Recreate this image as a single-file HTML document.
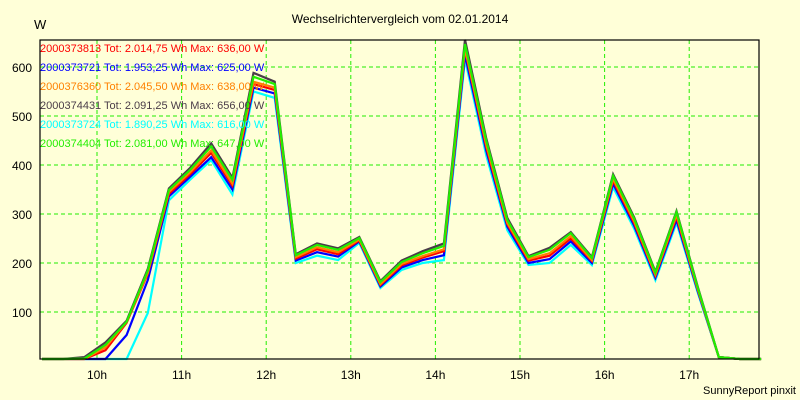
<!DOCTYPE html>
<html><head><meta charset="utf-8"><style>
body{margin:0;background:#ffffd8;}
svg{display:block;font-family:"Liberation Sans",sans-serif;}
</style></head><body>
<svg id="chart" width="800" height="400">
<rect width="800" height="400" fill="#ffffd8"/>
<text x="400" y="23" font-size="12" text-anchor="middle">Wechselrichtervergleich vom 02.01.2014</text>
<text x="34" y="29" font-size="13">W</text>
<text x="796" y="394" font-size="11" text-anchor="end">SunnyReport pinxit</text>
<g id="grid"></g><g id="series"></g><g id="legend"></g>
<rect x="40" y="40" width="719" height="319" fill="none" stroke="#000" stroke-width="1.2"/>
</svg>
<script>
const hourTicks=[10,11,12,13,14,15,16,17];
const yTicks=[100,200,300,400,500,600];
const startHour=9.35, stepHour=0.25;
const names=["2000373813","2000373721","2000376360","2000374431","2000373724","2000374404"];
const totals=["2.014,75","1.953,25","2.045,50","2.091,25","1.890,25","2.081,00"];
const maxes=["636,00","625,00","638,00","656,00","616,00","647,00"];
const colors=["#ff0000","#0000ff","#ff8000","#4a3c48","#00ffff","#22ee00"];
const s0=[0,0,3,22,78,178,341,381,425,358,565,553,209,228,218,246,155,195,211,224,636,437,279,205,215,250,204,368,281,174,294,146,8,2,0];
const s1=[0,0,0,0,53,165,336,376,416,350,558,546,205,222,213,244,152,191,206,216,625,430,274,200,208,244,200,362,276,170,288,143,8,2,0];
const s2=[0,0,4,28,80,180,345,385,430,362,570,558,212,232,222,248,157,198,214,228,638,442,282,208,220,255,206,372,285,176,298,147,8,2,0];
const s3=[0,0,8,38,82,188,352,394,444,374,588,570,218,240,230,253,163,205,224,240,656,455,292,214,231,263,212,381,293,182,306,152,8,2,0];
const s4=[0,0,0,0,0,98,328,370,410,340,550,537,200,215,206,241,149,186,200,206,616,420,267,196,200,237,196,355,270,165,282,140,8,2,0];
const s5=[0,0,5,33,80,185,349,390,438,370,580,565,216,237,227,251,161,202,220,235,647,450,288,212,227,261,210,378,290,180,304,150,8,2,0];
const series=[s0,s1,s2,s3,s4,s5];
const NS="http://www.w3.org/2000/svg";
function xs(h){return 97+(h-10)*84.6;}
function ys(v){return Math.min(359,361-v*0.49);}
function mk(tag,attrs,parent){const e=document.createElementNS(NS,tag);for(const k in attrs)e.setAttribute(k,attrs[k]);parent.appendChild(e);return e;}
const grid=document.getElementById('grid');
hourTicks.forEach(h=>{
 const l=mk('line',{x1:xs(h),x2:xs(h),y1:40,y2:359,stroke:'#22ee00','stroke-dasharray':'4,3'},grid);
 
 
 const t=mk('text',{x:xs(h),y:379,'font-size':12,'text-anchor':'middle'},grid);t.textContent=h+'h';
 
 
});
yTicks.forEach(v=>{
 const l=mk('line',{x1:40,x2:759,y1:ys(v),y2:ys(v),stroke:'#22ee00','stroke-dasharray':'4,3'},grid);
 
 
 const t=mk('text',{x:32,y:ys(v)+5,'font-size':12,'text-anchor':'end'},grid);t.textContent=v;
 
 
});
const sg=document.getElementById('series');
[4,1,0,2,3,5].forEach(k=>{
 const pts=series[k].map((v,i)=>xs(startHour+i*stepHour).toFixed(1)+','+ys(v).toFixed(1)).join(' ');
 const p=mk('polyline',{points:pts,fill:'none',stroke:colors[k],'stroke-width':2.2,'stroke-linejoin':'miter'},sg);
 
 
});
const lg=document.getElementById('legend');
names.forEach((n,k)=>{
 const t=mk('text',{x:40,y:52+k*19,'font-size':11,fill:colors[k]},lg);
 t.textContent=n+' Tot: '+totals[k]+' Wh Max: '+maxes[k]+' W';
 
 
});
</script>
</body></html>
